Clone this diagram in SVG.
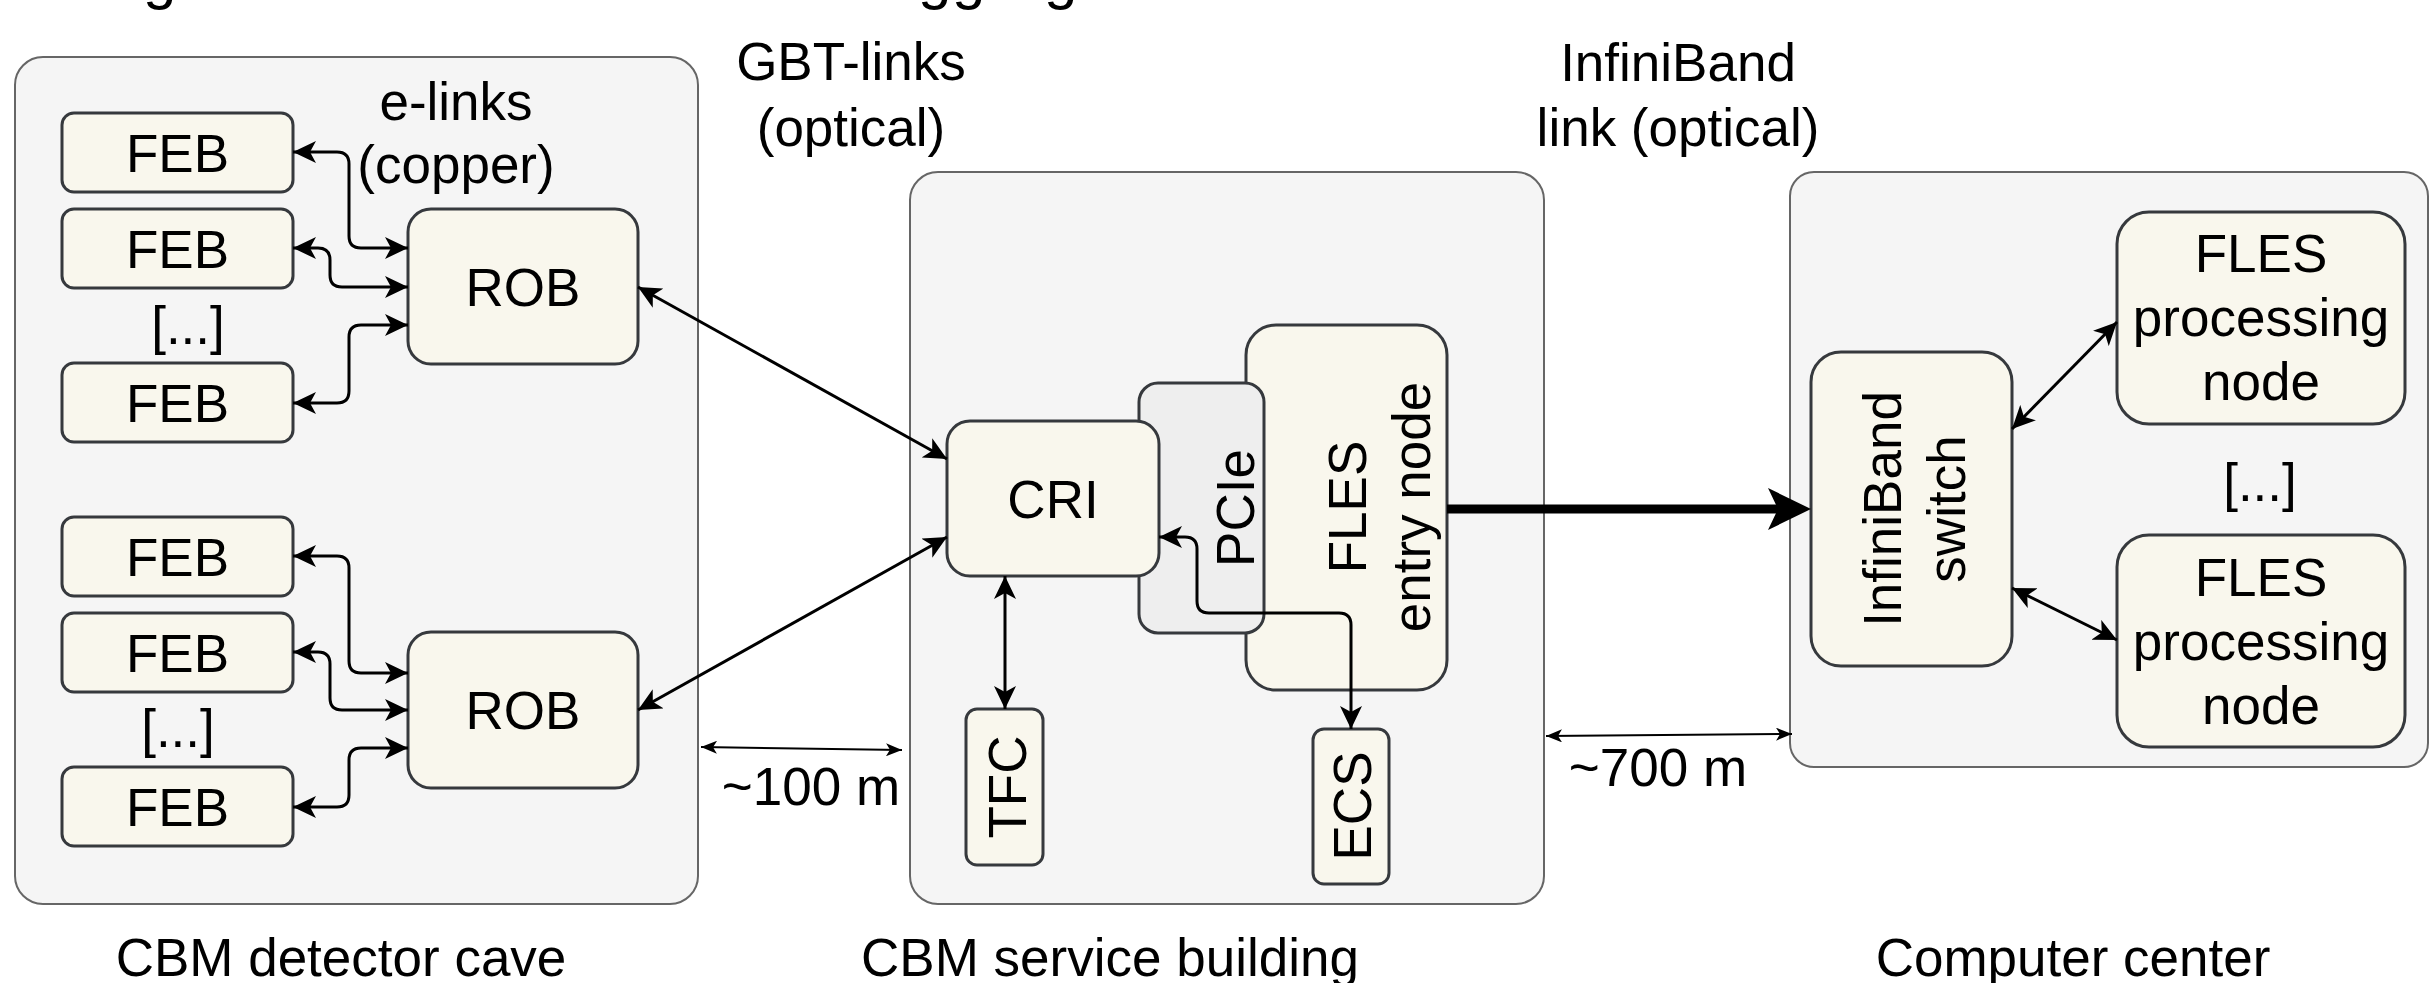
<svg xmlns="http://www.w3.org/2000/svg" width="2429" height="983" viewBox="0 0 2429 983">
<defs>
<style>
.t{font-family:"Liberation Sans",Arial,Helvetica,sans-serif;font-size:53px;fill:#000}
.c{text-anchor:middle}
.cont{fill:#f5f5f5;stroke:#666666;stroke-width:2}
.n{fill:#f9f7ed;stroke:#36393d;stroke-width:3}
.p{fill:#eeeeee;stroke:#36393d;stroke-width:3}
.e{fill:none;stroke:#000;stroke-width:3;marker-start:url(#a);marker-end:url(#a)}
.d{fill:none;stroke:#000;stroke-width:2;marker-start:url(#s);marker-end:url(#s)}
</style>
<marker id="a" markerUnits="userSpaceOnUse" viewBox="0 0 23 22" markerWidth="23" markerHeight="22" refX="23" refY="11" orient="auto-start-reverse"><path d="M0,0 L23,11 L0,22 L6,11 Z" fill="#000"/></marker>
<marker id="s" markerUnits="userSpaceOnUse" viewBox="0 0 16 13" markerWidth="16" markerHeight="13" refX="16" refY="6.5" orient="auto-start-reverse"><path d="M0,0 L16,6.5 L0,13 L4,6.5 Z" fill="#000"/></marker>
</defs>
<rect width="2429" height="983" fill="#ffffff"/>

<text class="t" style="font-size:60px" x="143 918 952 1044" y="-2">gggg</text>

<g id="containers">
<g id="cave"><rect class="cont" x="15" y="57" width="683" height="847" rx="28"/></g>
<g id="service"><rect class="cont" x="910" y="172" width="634" height="732" rx="28"/></g>
<g id="computer"><rect class="cont" x="1790" y="172" width="638" height="595" rx="24"/></g>
</g>

<g id="labels">
<text class="t c" x="456" y="120">e-links</text>
<text class="t c" x="456" y="183">(copper)</text>
<text class="t c" x="851" y="80">GBT-links</text>
<text class="t c" x="851" y="146">(optical)</text>
<text class="t c" x="1678" y="81">InfiniBand</text>
<text class="t c" x="1678" y="146">link (optical)</text>
<text class="t c" x="811" y="805">~100 m</text>
<text class="t c" x="1658" y="786">~700 m</text>
<text class="t c" x="341" y="976">CBM detector cave</text>
<text class="t c" x="1110" y="976">CBM service building</text>
<text class="t c" x="2073" y="976">Computer center</text>
<text class="t c" x="188" y="344">[...]</text>
<text class="t c" x="178" y="747">[...]</text>
<text class="t c" x="2260" y="501">[...]</text>
</g>

<g id="feb1"><rect class="n" x="62" y="113" width="231" height="79" rx="12"/><text class="t c" x="177.5" y="171.5">FEB</text></g>
<g id="feb2"><rect class="n" x="62" y="209" width="231" height="79" rx="12"/><text class="t c" x="177.5" y="267.5">FEB</text></g>
<g id="feb3"><rect class="n" x="62" y="363" width="231" height="79" rx="12"/><text class="t c" x="177.5" y="421.5">FEB</text></g>
<g id="feb4"><rect class="n" x="62" y="517" width="231" height="79" rx="12"/><text class="t c" x="177.5" y="575.5">FEB</text></g>
<g id="feb5"><rect class="n" x="62" y="613" width="231" height="79" rx="12"/><text class="t c" x="177.5" y="671.5">FEB</text></g>
<g id="feb6"><rect class="n" x="62" y="767" width="231" height="79" rx="12"/><text class="t c" x="177.5" y="825.5">FEB</text></g>
<g id="rob1"><rect class="n" x="408" y="209" width="230" height="155" rx="23"/><text class="t c" x="523" y="305.5">ROB</text></g>
<g id="rob2"><rect class="n" x="408" y="632" width="230" height="156" rx="23"/><text class="t c" x="523" y="729">ROB</text></g>

<g id="fles-entry"><rect class="n" x="1246" y="325" width="201" height="365" rx="30"/>
<text class="t c" transform="translate(1366,507) rotate(-90)">FLES</text>
<text class="t c" transform="translate(1430,507) rotate(-90)">entry node</text></g>
<g id="pcie"><rect class="p" x="1139" y="383" width="125" height="250" rx="19"/><text class="t c" transform="translate(1254,508) rotate(-90)">PCIe</text></g>
<g id="cri"><rect class="n" x="947" y="421" width="212" height="155" rx="23"/><text class="t c" x="1053" y="517.5">CRI</text></g>
<g id="tfc"><rect class="n" x="966" y="709" width="77" height="156" rx="11"/><text class="t c" transform="translate(1026,787) rotate(-90)">TFC</text></g>
<g id="ecs"><rect class="n" x="1313" y="729" width="76" height="155" rx="11"/><text class="t c" transform="translate(1371,806) rotate(-90)">ECS</text></g>

<g id="ib-switch"><rect class="n" x="1811" y="352" width="201" height="314" rx="30"/>
<text class="t c" transform="translate(1901,509) rotate(-90)">InfiniBand</text>
<text class="t c" transform="translate(1965,509) rotate(-90)">switch</text></g>
<g id="proc1"><rect class="n" x="2117" y="212" width="288" height="212" rx="32"/>
<text class="t c" x="2261" y="272">FLES</text><text class="t c" x="2261" y="336">processing</text><text class="t c" x="2261" y="400">node</text></g>
<g id="proc2"><rect class="n" x="2117" y="535" width="288" height="212" rx="32"/>
<text class="t c" x="2261" y="596">FLES</text><text class="t c" x="2261" y="660">processing</text><text class="t c" x="2261" y="724">node</text></g>

<g id="connectors">
<path class="e" d="M293,152 H337 Q349,152 349,164 V236 Q349,248 361,248 H408"/>
<path class="e" d="M293,248 H318 Q330,248 330,260 V275 Q330,287 342,287 H408"/>
<path class="e" d="M293,403 H337 Q349,403 349,391 V337 Q349,325 361,325 H408"/>
<path class="e" d="M293,556 H337 Q349,556 349,568 V661 Q349,673 361,673 H408"/>
<path class="e" d="M293,652 H318 Q330,652 330,664 V698 Q330,710 342,710 H408"/>
<path class="e" d="M293,807 H337 Q349,807 349,795 V760 Q349,748 361,748 H408"/>
<path class="e" d="M638,287 L947,459"/>
<path class="e" d="M638,710 L947,537"/>
<path class="e" d="M1005,576 V709"/>
<path class="e" d="M1159,537 H1185 Q1197,537 1197,549 V601 Q1197,613 1209,613 H1339 Q1351,613 1351,625 V729"/>
<path class="e" d="M2012,429 L2117,322"/>
<path class="e" d="M2012,588 L2117,640"/>
<path class="d" d="M701,747 L902,750"/>
<path class="d" d="M1546,736 L1792,734"/>
<path d="M1447,509 H1780" fill="none" stroke="#000" stroke-width="9"/>
<path d="M1768,488 L1811,509 L1768,530 L1778,509 Z" fill="#000"/>
</g>
</svg>
